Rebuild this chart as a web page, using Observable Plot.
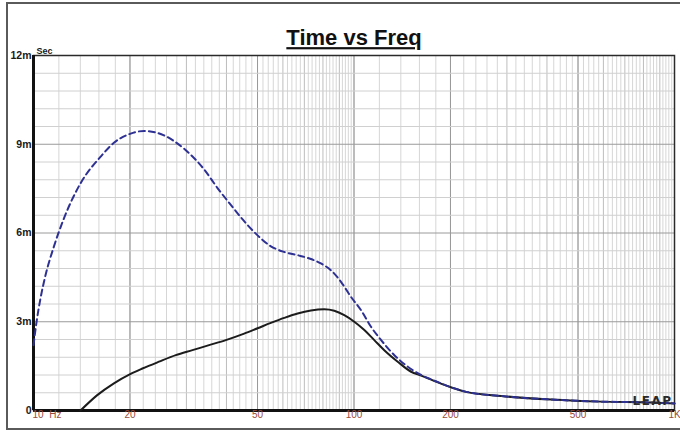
<!DOCTYPE html>
<html>
<head>
<meta charset="utf-8">
<script src="https://cdn.jsdelivr.net/npm/d3@7"></script>
<script src="https://cdn.jsdelivr.net/npm/@observablehq/plot@0.6"></script>
<style>
  html, body { margin: 0; padding: 0; background: #fff; }
  #wrap { position: relative; width: 680px; height: 431px; overflow: hidden; }
  #border { position: absolute; left: 6px; top: 2px; width: 700px; height: 424px; border: 2px solid #5a5a5a; pointer-events: none; }
  .title text { text-decoration: underline; }
  .logo text { letter-spacing: 1.5px; }
</style>
</head>
<body>
<div id="wrap"><div id="border"></div></div>
<script>
// Dashed (blue) series: frequency (Hz) and time (ms)
const dashedFreq = [10, 10.22, 10.52, 10.9, 11.57, 12.43, 14.02, 16.2, 17.82, 20.1, 22.12, 25.54, 29.49, 34.06, 37.51, 41.27, 45.42, 50.02, 55.04, 60.56, 66.7, 73.38, 78.86, 84.74, 91.07, 97.86, 105.2, 113.0, 121.5, 133.6, 147.2, 162.0, 176.2, 202.5, 223.9, 288.0, 412.6, 591.4, 847.6, 1000];
const dashedMs   = [2.21, 2.99, 3.80, 4.57, 5.53, 6.48, 7.68, 8.58, 9.05, 9.36, 9.45, 9.30, 8.85, 8.15, 7.52, 6.95, 6.40, 5.92, 5.55, 5.36, 5.25, 5.12, 4.97, 4.74, 4.35, 3.84, 3.39, 2.83, 2.38, 1.87, 1.48, 1.20, 1.03, 0.77, 0.63, 0.49, 0.37, 0.30, 0.27, 0.24];

// Solid (black) series
const solidFreq = [14.02, 15.81, 17.82, 20.1, 21.87, 24.64, 27.79, 31.33, 35.3, 39.81, 45.42, 50.02, 55.04, 60.56, 66.7, 73.38, 80.76, 86.79, 93.25, 100.2, 107.7, 115.7, 124.3, 136.9, 150.7, 162.0, 176.2, 202.5, 223.9, 288.0, 412.6, 591.4, 847.6, 1000];
const solidMs   = [0, 0.52, 0.92, 1.24, 1.42, 1.65, 1.87, 2.04, 2.21, 2.38, 2.60, 2.78, 2.96, 3.13, 3.28, 3.38, 3.42, 3.37, 3.22, 3.00, 2.72, 2.38, 2.04, 1.65, 1.31, 1.18, 1.02, 0.77, 0.63, 0.49, 0.37, 0.30, 0.27, 0.24];

// Axis ticks and labels
const xTicks = [10, 20, 50, 100, 200, 500, 1000];
const xTickLabels = ["10  Hz", "20", "50", "100", "200", "500", "1K"];
const yTicks = [0, 3, 6, 9, 12];
const yTickLabels = ["0", "3m", "6m", "9m", "12m"];

// Grid positions
const xGridDecade = [20, 30, 40, 50, 60, 70, 80, 90, 100, 200, 300, 400, 500, 600, 700, 800, 900];
const xGridMinor = [
  ...d3.range(12, 100, 2).filter(v => v % 10 !== 0),
  ...d3.range(120, 1000, 20).filter(v => v % 100 !== 0)
];
const xGridLabeled = [20, 50, 100, 200, 500];
const yGridMinor = d3.range(0.6, 12, 0.6).filter(v => Math.abs(v / 3 - Math.round(v / 3)) > 1e-6);
const yGridMajor = [3, 6, 9];

const solid = solidFreq.map((f, i) => ({f, t: solidMs[i]}));
const dashed = dashedFreq.map((f, i) => ({f, t: dashedMs[i]}));

const font = "'Liberation Sans Narrow', 'Arial Narrow', 'Liberation Sans', Arial, sans-serif";

const chart = Plot.plot({
  width: 680,
  height: 431,
  marginLeft: 33,
  marginRight: 6,
  marginTop: 55,
  marginBottom: 21,
  x: {type: "log", domain: [10, 1000], axis: null},
  y: {domain: [0, 12], axis: null},
  style: {background: "transparent", fontFamily: font, overflow: "visible"},
  marks: [
    Plot.ruleX(xGridMinor, {stroke: "#d6d6d6", strokeWidth: 1}),
    Plot.ruleX(xGridDecade, {stroke: "#bdbdbd", strokeWidth: 1}),
    Plot.ruleX(xGridLabeled, {stroke: "#9a9a9a", strokeWidth: 1}),
    Plot.ruleY(yGridMinor, {stroke: "#d0d0d0", strokeWidth: 1}),
    Plot.ruleY(yGridMajor, {stroke: "#9a9a9a", strokeWidth: 1}),
    Plot.frame({stroke: "#2a2a2a", strokeWidth: 1.5}),
    Plot.ruleX([10], {stroke: "#111", strokeWidth: 3}),
    Plot.ruleY([0], {stroke: "#111", strokeWidth: 3}),
    Plot.line(solid, {x: "f", y: "t", stroke: "#1c1c1c", strokeWidth: 2, curve: "monotone-x"}),
    Plot.line(dashed, {x: "f", y: "t", stroke: "#2e3192", strokeWidth: 2, strokeDasharray: "6,4", curve: "monotone-x"}),
    // Y tick labels
    Plot.text(yTicks, {frameAnchor: "left", y: d => d, text: (d, i) => yTickLabels[i], textAnchor: "end", dx: -2, fontSize: 10.5, fontWeight: "bold", fill: "#1a1a1a"}),
    // X tick labels
    Plot.text([xTicks[0]], {x: d => d, frameAnchor: "bottom", text: () => xTickLabels[0], textAnchor: "start", dy: 7, dx: -1, fontSize: 10, fill: "#9c4a3c", style: "white-space:pre"}),
    Plot.text(xTicks.slice(1), {x: d => d, frameAnchor: "bottom", text: (d, i) => xTickLabels[i + 1], textAnchor: "middle", dy: 7, fontSize: 10, fill: "#9c4a3c"}),
    // Unit label
    Plot.text(["Sec"], {frameAnchor: "top-left", text: d => d, textAnchor: "start", dx: 3, dy: -8, fontSize: 9, fontWeight: "bold", fill: "#1a1a1a"}),
    // Title
    Plot.text(["Time vs Freq"], {frameAnchor: "top", text: d => d, dy: -26, fontSize: 22, fontWeight: "bold", fill: "#111", className: "title"}),
    // Logo
    Plot.text(["LEAP"], {frameAnchor: "bottom-right", text: d => d, textAnchor: "end", dx: -2, dy: -6, fontSize: 12, fontWeight: "bold", fill: "#2a2a2a", fontFamily: "'DejaVu Sans', sans-serif", className: "logo"})
  ]
});

chart.style.position = "absolute";
chart.style.left = "0px";
chart.style.top = "0px";
document.getElementById("wrap").appendChild(chart);
</script>
</body>
</html>
